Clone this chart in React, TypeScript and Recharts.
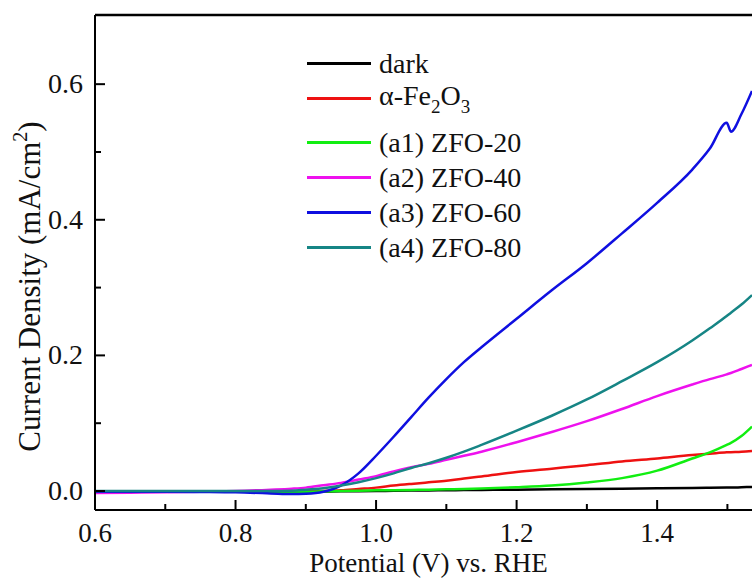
import {
  LineChart,
  Line,
  XAxis,
  YAxis,
  Legend,
  ReferenceLine,
} from "recharts";

// potential (V vs. RHE), shared sampling grid for every scan
const potential = [
  0.6, 0.65, 0.7, 0.75, 0.8, 0.85, 0.88, 0.9, 0.925, 0.95, 0.975, 1.0,
  1.025, 1.05, 1.075, 1.1, 1.125, 1.15, 1.2, 1.25, 1.3, 1.35, 1.4, 1.45,
  1.475, 1.499, 1.505, 1.52, 1.535,
];

// current density (mA/cm2)
const dark = [
  -0.001, -0.001, -0.001, -0.001, -0.001, -0.001, -0.001, -0.001, -0.0008,
  -0.0005, -0.0002, 0.0, 0.0003, 0.0006, 0.0009, 0.0012, 0.0014, 0.0016,
  0.002, 0.0025, 0.003, 0.0035, 0.004, 0.0045, 0.0048, 0.005, 0.005, 0.0055,
  0.006,
];

const fe2o3 = [
  -0.001, -0.001, -0.001, -0.001, -0.001, -0.001, -0.001, -0.0005, 0.0,
  0.001, 0.003, 0.005, 0.008, 0.0105, 0.0128, 0.015, 0.0185, 0.0215, 0.028,
  0.033, 0.038, 0.0435, 0.048, 0.053, 0.055, 0.057, 0.0573, 0.058, 0.059,
];

const zfo20 = [
  -0.001, -0.001, -0.001, -0.001, -0.001, -0.001, -0.001, -0.001, -0.0005,
  0.0, 0.0005, 0.001, 0.0013, 0.0016, 0.002, 0.0025, 0.003, 0.0037, 0.0055,
  0.008, 0.0125, 0.019, 0.03, 0.048, 0.057, 0.068, 0.071, 0.081, 0.095,
];

const zfo40 = [
  -0.003, -0.0025, -0.002, -0.001, 0.0, 0.002, 0.0035, 0.005, 0.0085, 0.012,
  0.017, 0.022, 0.029, 0.035, 0.04, 0.046, 0.052, 0.058, 0.072, 0.087, 0.103,
  0.121, 0.14, 0.157, 0.165, 0.172, 0.174, 0.18, 0.186,
];

const zfo60 = [
  -0.001, -0.001, -0.0012, -0.0015, -0.002, -0.0035, -0.0045, -0.004,
  -0.001, 0.008, 0.026, 0.052, 0.08, 0.109, 0.138, 0.165, 0.19, 0.212, 0.254,
  0.296, 0.336, 0.38, 0.425, 0.474, 0.505, 0.543, 0.53, 0.556, 0.59,
];

const zfo80 = [
  0.0, 0.0, 0.0, 0.0, 0.0, 0.0, 0.0005, 0.002, 0.004, 0.008, 0.013, 0.019,
  0.026, 0.034, 0.041, 0.049, 0.058, 0.068, 0.089, 0.111, 0.135, 0.162, 0.19,
  0.222, 0.24, 0.258, 0.263, 0.275, 0.289,
];

const seriesNames = [
  "dark",
  "α-Fe2O3",
  "(a1) ZFO-20",
  "(a2) ZFO-40",
  "(a3) ZFO-60",
  "(a4) ZFO-80",
];

const seriesColors = [
  "#000000",
  "#ee1111",
  "#11ee11",
  "#ee11ee",
  "#0f0fe0",
  "#168585",
];

const seriesValues = [dark, fe2o3, zfo20, zfo40, zfo60, zfo80];

const xMajorTicks = [0.6, 0.8, 1.0, 1.2, 1.4];
const xMinorTicks = [0.7, 0.9, 1.1, 1.3, 1.5];
const yMajorTicks = [0.0, 0.2, 0.4, 0.6];
const yMinorTicks = [0.1, 0.3, 0.5];

const xDomain = [0.6, 1.535];
const yDomain = [-0.028, 0.702];

const FONT = "'Liberation Serif', 'Times New Roman', serif";

const isMajor = (list: number[], v: number) =>
  list.some((t) => Math.abs(t - v) < 1e-6);

const XTick = (props: any) => {
  const { x, y, payload } = props;
  const major = isMajor(xMajorTicks, payload.value);
  return (
    <g>
      <line
        x1={x}
        x2={x}
        y1={y}
        y2={y - (major ? 10 : 6)}
        stroke="#000"
        strokeWidth={2}
      />
      {major && (
        <text
          x={x}
          y={y + 32}
          textAnchor="middle"
          fontFamily={FONT}
          fontSize={27}
          fill="#111"
        >
          {payload.value.toFixed(1)}
        </text>
      )}
    </g>
  );
};

const YTick = (props: any) => {
  const { x, y, payload } = props;
  const major = isMajor(yMajorTicks, payload.value);
  return (
    <g>
      <line
        x1={x}
        x2={x + (major ? 10 : 6)}
        y1={y}
        y2={y}
        stroke="#000"
        strokeWidth={2}
      />
      {major && (
        <text
          x={x - 12}
          y={y + 9}
          textAnchor="end"
          fontFamily={FONT}
          fontSize={28}
          fill="#111"
        >
          {payload.value.toFixed(1)}
        </text>
      )}
    </g>
  );
};

const renderName = (name: string) => {
  if (name === "α-Fe2O3") {
    return (
      <span>
        α-Fe
        <span style={{ fontSize: 19, verticalAlign: -8 }}>2</span>O
        <span style={{ fontSize: 19, verticalAlign: -8 }}>3</span>
      </span>
    );
  }
  return <span>{name}</span>;
};

const LegendBox = () => (
  <div style={{ fontFamily: FONT, fontSize: 28, color: "#111" }}>
    {seriesNames.map((name, i) => (
      <div
        key={name}
        style={{
          display: "flex",
          alignItems: "center",
          height: 35,
          marginBottom: i === 1 ? 9 : 0,
          whiteSpace: "nowrap",
        }}
      >
        <div
          style={{
            width: 64,
            height: 2.5,
            background: seriesColors[i],
            marginRight: 8,
          }}
        />
        {renderName(name)}
      </div>
    ))}
  </div>
);

export default function App() {
  const series = seriesValues.map((values) =>
    potential.map((v, i) => ({ v, j: values[i] }))
  );

  return (
    <div
      style={{
        position: "absolute",
        left: 0,
        top: 0,
        width: 752,
        height: 578,
        background: "#fff",
        overflow: "hidden",
      }}
    >
      <LineChart
        width={752}
        height={578}
        margin={{ top: 15, right: 0, bottom: 67, left: 94 }}
      >
        <XAxis
          dataKey="v"
          type="number"
          domain={xDomain}
          allowDataOverflow
          ticks={[...xMajorTicks, ...xMinorTicks].sort((a, b) => a - b)}
          interval={0}
          height={1}
          tickSize={0}
          tickMargin={0}
          tick={<XTick />}
          axisLine={{ stroke: "#000", strokeWidth: 2 }}
          label={{
            content: ({ viewBox }: any) => (
              <text
                x={viewBox.x + viewBox.width / 2 + 5}
                y={viewBox.y + 62}
                textAnchor="middle"
                fontFamily={FONT}
                fontSize={27}
                fill="#111"
              >
                Potential (V) vs. RHE
              </text>
            ),
          }}
        />
        <YAxis
          type="number"
          domain={yDomain}
          allowDataOverflow
          ticks={[...yMajorTicks, ...yMinorTicks].sort((a, b) => a - b)}
          interval={0}
          width={1}
          tickSize={0}
          tickMargin={0}
          tick={<YTick />}
          axisLine={{ stroke: "#000", strokeWidth: 2 }}
          label={{
            content: ({ viewBox }: any) => {
              const cx = 40;
              const cy = viewBox.y + viewBox.height / 2 + 24;
              return (
                <text
                  x={cx}
                  y={cy}
                  textAnchor="middle"
                  transform={`rotate(-90, ${cx}, ${cy})`}
                  fontFamily={FONT}
                  fontSize={31}
                  fill="#111"
                >
                  Current Density (mA/cm
                  <tspan dy={-13} fontSize={20}>
                    2
                  </tspan>
                  <tspan dy={13}>)</tspan>
                </text>
              );
            },
          }}
        />
        <ReferenceLine
          y={yDomain[1]}
          stroke="#000"
          strokeWidth={2.5}
        />
        <Legend
          layout="vertical"
          align="center"
          verticalAlign="middle"
          content={<LegendBox />}
          wrapperStyle={{ left: 307, top: 46, width: 260 }}
        />
        {series.map((data, i) => (
          <Line
            key={seriesNames[i]}
            data={data}
            dataKey="j"
            name={seriesNames[i]}
            type="monotone"
            stroke={seriesColors[i]}
            strokeWidth={2.5}
            dot={false}
            isAnimationActive={false}
          />
        ))}
      </LineChart>
    </div>
  );
}
